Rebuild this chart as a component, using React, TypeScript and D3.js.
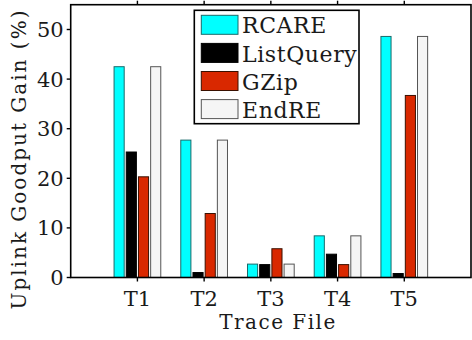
import React from "react";
import * as d3 from "d3";

const categories = ["T1", "T2", "T3", "T4", "T5"];
const seriesNames = ["RCARE", "ListQuery", "GZip", "EndRE"];
const rcare = [42.5, 27.7, 2.7, 8.4, 48.6];
const listQuery = [25.3, 1.0, 2.6, 4.7, 0.8];
const gzip = [20.3, 12.9, 5.8, 2.6, 36.7];
const endre = [42.5, 27.7, 2.7, 8.4, 48.6];
const yTicks = [0, 10, 20, 30, 40, 50];

const seriesValues = [rcare, listQuery, gzip, endre];
const fills = ["#00ffff", "#000000", "#d92800", "#f5f5f5"];
const strokes = ["#1a6a6a", "#000000", "#3a1000", "#555555"];

const W = 472;
const H = 340;
const left = 70.7;
const right = 471;
const top = 4.7;
const bottom = 277.5;
const serif = { fontFamily: "'DejaVu Serif'" };

export default function App() {
  const x = d3.scaleLinear().domain([0, categories.length + 1]).range([left, right]);
  const y = d3.scaleLinear().domain([0, 55]).range([bottom, top]);
  const band = d3
    .scaleBand<number>()
    .domain(d3.range(seriesNames.length))
    .range([-0.35, 0.35])
    .paddingInner(0.17);

  return (
    <svg width={W} height={H} style={{ position: "absolute", left: 0, top: 0 }}>
      {/* bars */}
      {categories.map((c, i) =>
        seriesValues.map((vals, s) => {
          const x0 = x(i + 1 + band(s)!);
          const x1 = x(i + 1 + band(s)! + band.bandwidth());
          return (
            <rect
              key={c + s}
              x={x0}
              y={y(vals[i])}
              width={x1 - x0}
              height={y(0) - y(vals[i])}
              fill={fills[s]}
              stroke={strokes[s]}
              strokeWidth={1}
            />
          );
        })
      )}

      {/* frame */}
      <rect
        x={left}
        y={top}
        width={right - left}
        height={bottom - top}
        fill="none"
        stroke="#000"
        strokeWidth={1.6}
      />

      {/* y ticks */}
      {yTicks.map((t) => (
        <g key={t}>
          <line x1={left - 4} x2={left} y1={y(t)} y2={y(t)} stroke="#000" strokeWidth={1.4} />
          <text
            x={left - 7}
            y={y(t)}
            dy="0.36em"
            textAnchor="end"
            fontSize={21}
            fill="#1a1a1a"
            style={serif}
          >
            {t}
          </text>
        </g>
      ))}

      {/* x ticks */}
      {categories.map((c, i) => (
        <g key={c}>
          <line x1={x(i + 1)} x2={x(i + 1)} y1={bottom} y2={bottom + 4} stroke="#000" strokeWidth={1.4} />
          <line x1={x(i + 1)} x2={x(i + 1)} y1={top - 4} y2={top} stroke="#000" strokeWidth={1.4} />
          <text x={x(i + 1)} y={306} textAnchor="middle" fontSize={21} fill="#1a1a1a" style={serif}>
            {c}
          </text>
        </g>
      ))}

      {/* axis titles */}
      <text x={278} y={328.5} textAnchor="middle" fontSize={20} letterSpacing={1.5} fill="#1a1a1a" style={serif}>
        Trace File
      </text>
      <text
        transform={`translate(26,159) rotate(-90)`}
        textAnchor="middle"
        fontSize={20}
        letterSpacing={2}
        fill="#1a1a1a"
        style={serif}
      >
        Uplink Goodput Gain (%)
      </text>

      {/* legend */}
      <rect x={194.3} y={10.3} width={164.7} height={113.4} fill="#fff" stroke="#000" strokeWidth={1.6} />
      {seriesNames.map((n, s) => (
        <g key={n}>
          <rect
            x={201.3}
            y={15.3 + s * 28.1}
            width={36.7}
            height={19}
            fill={fills[s]}
            stroke={strokes[s]}
            strokeWidth={1}
          />
          <text x={242} y={33.3 + s * 28.3} fontSize={22} letterSpacing={0.6} fill="#1a1a1a" style={serif}>
            {n}
          </text>
        </g>
      ))}
    </svg>
  );
}
